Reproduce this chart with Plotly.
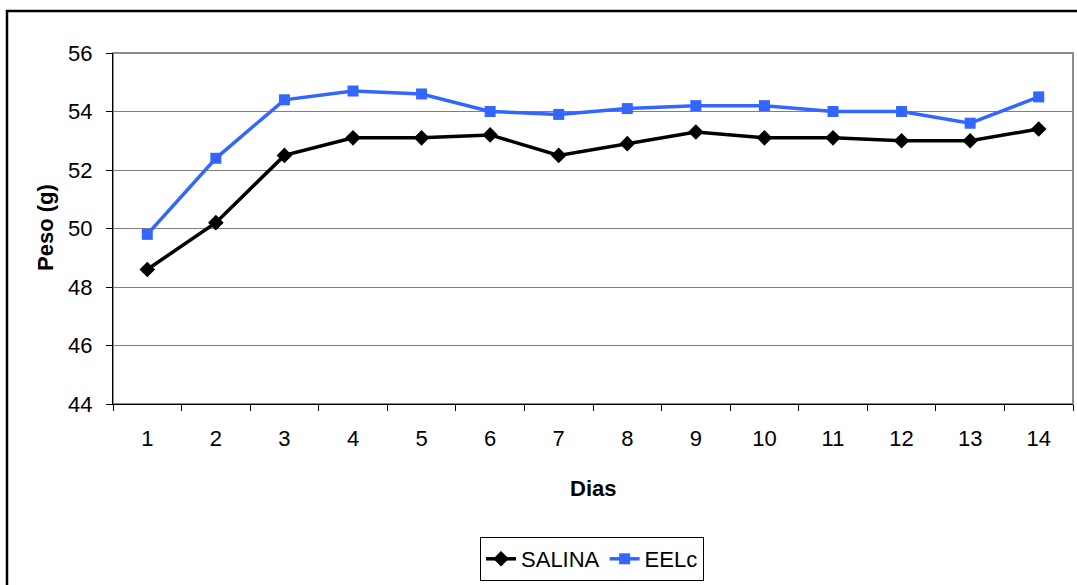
import plotly.graph_objects as go

dias = [str(i) for i in range(1, 15)]
salina = [48.6, 50.2, 52.5, 53.1, 53.1, 53.2, 52.5, 52.9, 53.3, 53.1, 53.1, 53.0, 53.0, 53.4]
eelc = [49.8, 52.4, 54.4, 54.7, 54.6, 54.0, 53.9, 54.1, 54.2, 54.2, 54.0, 54.0, 53.6, 54.5]
y_ticks = [44, 46, 48, 50, 52, 54, 56]

W, H = 1077, 585
L, R, T, B = 113, 4, 53, 181
pw = W - L - R
ph = H - T - B

FONT = "Liberation Sans, Arial, sans-serif"
FS = 22

fig = go.Figure()
fig.add_trace(go.Scatter(
    x=dias, y=salina, name="SALINA", mode="lines+markers",
    line=dict(color="#000000", width=3.5),
    marker=dict(symbol="diamond", size=12, color="#000000"),
))
fig.add_trace(go.Scatter(
    x=dias, y=eelc, name="EELc", mode="lines+markers",
    line=dict(color="#3366FF", width=3.5),
    marker=dict(symbol="square", size=11, color="#3366FF"),
))

def px_x(x):
    return (x - L) / pw

def px_y(y):
    return (H - B - y) / ph

fig.update_layout(
    width=W, height=H,
    margin=dict(l=L, r=R, t=T, b=B),
    paper_bgcolor="white", plot_bgcolor="white",
    font=dict(family=FONT, size=FS, color="black"),
    showlegend=True,
    legend=dict(
        orientation="h", x=0.499, xanchor="center",
        y=px_y(537), yanchor="top",
        bordercolor="black", borderwidth=1,
        font=dict(family=FONT, size=FS, color="black"),
        itemwidth=30,
    ),
    xaxis=dict(
        type="category", range=[-0.5, 13.5],
        showgrid=False, showline=True, linecolor="black", linewidth=1,
        ticks="outside", ticklen=6, tickcolor="black", tickson="boundaries",
        tickfont=dict(family=FONT, size=FS, color="black"),
        ticklabelstandoff=15,
        zeroline=False,
    ),
    yaxis=dict(
        range=[44, 56], tickvals=y_ticks,
        showgrid=True, gridcolor="#7f7f7f", gridwidth=1,
        showline=True, linecolor="black", linewidth=1,
        ticks="outside", ticklen=6, tickcolor="black",
        tickfont=dict(family=FONT, size=FS, color="black"),
        ticklabelstandoff=9,
        zeroline=False,
    ),
    shapes=[
        dict(type="rect", xref="paper", yref="paper", x0=0, x1=1, y0=0, y1=1,
             line=dict(color="#8c8c8c", width=2), layer="below"),
        dict(type="rect", xref="paper", yref="paper",
             x0=px_x(7), x1=px_x(1090), y0=px_y(11), y1=px_y(600),
             line=dict(color="black", width=2.5), layer="above"),
    ],
    annotations=[
        dict(text="<b>Peso (g)</b>", xref="paper", yref="paper",
             x=px_x(45), y=px_y(228), textangle=-90, showarrow=False,
             font=dict(family=FONT, size=FS, color="black"),
             xanchor="center", yanchor="middle"),
        dict(text="<b>Dias</b>", xref="paper", yref="paper",
             x=px_x(593), y=px_y(489), showarrow=False,
             font=dict(family=FONT, size=FS, color="black"),
             xanchor="center", yanchor="middle"),
    ],
)

fig.write_html("out.html")
